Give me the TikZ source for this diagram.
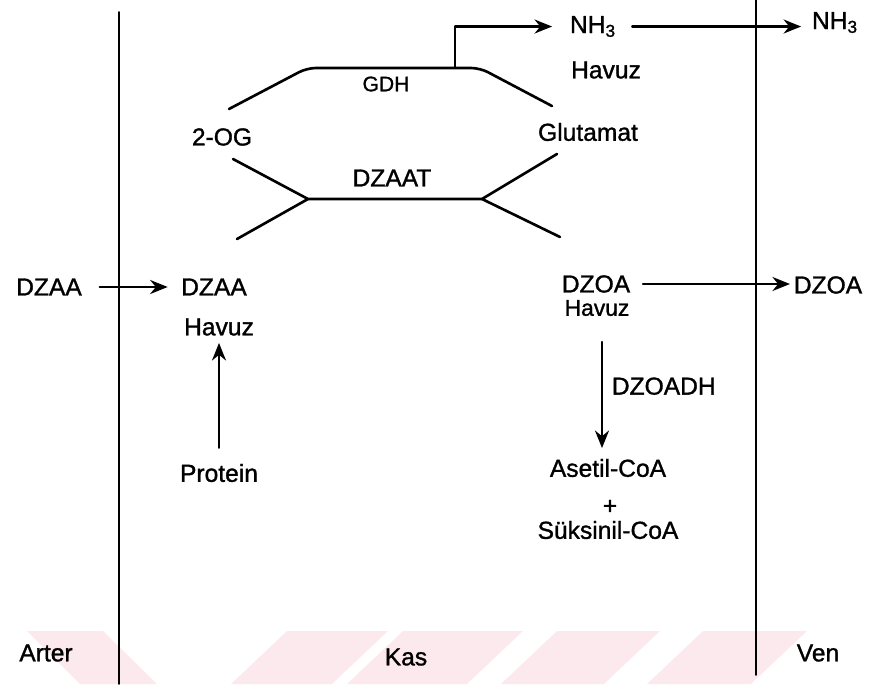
\documentclass[tikz,border=0pt]{standalone}
\usepackage{fontspec}
\setmainfont{Liberation Sans}[BoldFont={Liberation Sans},BoldFeatures={FakeBold=1.2}]
\usetikzlibrary{arrows.meta}
\definecolor{wmpink}{RGB}{252,233,237}

\begin{document}
\begin{tikzpicture}[x=0.02cm,y=-0.02cm,line cap=round,line join=round,
  every node/.style={inner sep=2pt,font=\fontsize{14}{16}\selectfont\bfseries},
  arr/.style={line width=1.2pt,-{Stealth[length=10pt,width=8pt]}}]
  \useasboundingbox (0,0) rectangle (873,684);
  % filigran
  \fill[wmpink] (27,631) -- (103,631) -- (157,684) -- (80,684) -- cycle;
  \foreach \a/\b in {287/388,403/523,557/660,703/807} {
    \fill[wmpink] (\a,631) -- (\b,631) -- ({\b-56},684) -- ({\a-56},684) -- cycle;
  }
  % arter / kas / ven sinirlari
  \draw[line width=0.95pt] (119,12) -- (119,684);
  \draw[line width=0.95pt] (756,0) -- (756,675);
  % GDH ve DZAAT halkasi
  \draw[line width=1.5pt,rounded corners=5pt] (229,109) -- (307,68) -- (480,68) -- (552,106);
  \draw[line width=1.5pt] (233,159) -- (308,199) -- (482,199) -- (557,154);
  \draw[line width=1.5pt] (237,239) -- (308,199);
  \draw[line width=1.5pt] (482,199) -- (560,237);
  \coordinate (gdhtop) at (455,68);
  % yazilar
  \foreach \n/\x/\y/\t in {
    arter/46/653/Arter, kas/406/657/Kas, ven/818/653/Ven,
    og/222/137/2-OG, glu/588/132/Glutamat, dzaat/392/178/DZAAT,
    havuzN/606/70/Havuz,
    dzaaA/49/287/DZAA, dzaaK/214/287/DZAA, havuzA/219/327/Havuz,
    protein/219/473/Protein,
    dzoaK/596/284/DZOA, dzoaV/828/285/DZOA,
    asetil/608/468/Asetil-CoA, plus/610/507/+, suksinil/608/530/Süksinil-CoA
  } {
    \node (\n) at (\x,\y) {\t};
  }
  \node[font=\fontsize{12}{14}\selectfont\bfseries] (gdh) at (386,84) {GDH};
  \node[font=\fontsize{13}{14}\selectfont\bfseries,inner sep=0.5pt] (havuzO) at (597,308) {Havuz};
  \node[anchor=base] (nh3a) at (593,33) {NH\textsubscript{3}};
  \node[anchor=base] (nh3b) at (835,29) {NH\textsubscript{3}};
  % oklar
  \draw[arr,shorten >=8pt] (gdhtop) |- (nh3a.west);
  \draw[arr,shorten <=7pt,shorten >=4pt] (nh3a.east) -- (nh3a.east -| nh3b.west);
  \draw[arr,shorten <=8pt,shorten >=5.5pt] (dzaaA.east) -- (dzaaK.west);
  \draw[arr,shorten <=7pt,shorten >=2pt] (protein.north) -- (havuzA.south);
  \draw[arr,shorten <=5pt] (dzoaK.east) -- (dzoaK.east -| dzoaV.west);
  \coordinate (down) at (602,0);
  \draw[arr,shorten <=14pt,shorten >=4pt] (havuzO.south -| down) -- (asetil.north -| down)
    node[midway,right=3pt] (dzoadh) {DZOADH};
\end{tikzpicture}
\end{document}
